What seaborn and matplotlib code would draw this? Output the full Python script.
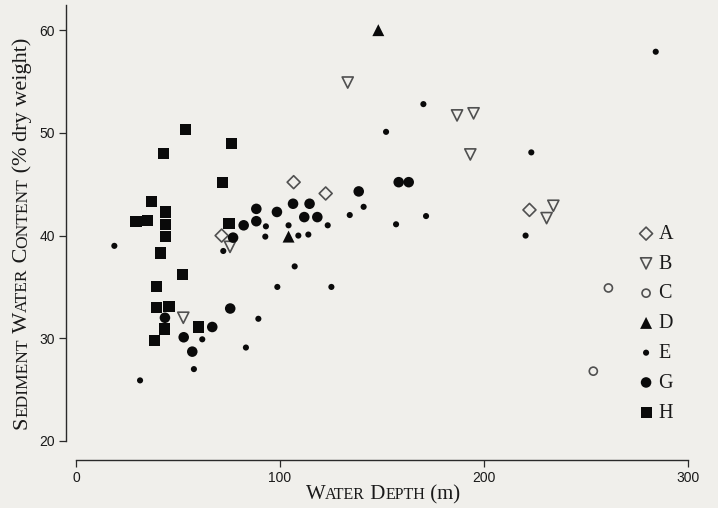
import pandas as pd
import matplotlib
matplotlib.use("Agg")
import matplotlib.pyplot as plt
import seaborn as sns

# Sediment water content (% dry weight) against water depth (m), by group
a_depth = [71.4, 106.7, 122.4, 222.3]
a_water = [40.0, 45.2, 44.1, 42.5]

b_depth = [52.6, 75.5, 133.2, 186.8, 194.9, 193.3, 230.7, 234.0]
b_water = [32.0, 38.9, 54.9, 51.7, 51.9, 47.9, 41.7, 42.9]

c_depth = [253.6, 261.0]
c_water = [26.8, 34.9]

d_depth = [104.2, 148.2]
d_water = [39.9, 60.0]

e_depth = [18.8, 31.4, 57.8, 61.9, 72.2, 83.3, 89.4, 92.8, 93.1, 98.7, 104.2, 107.2, 109.0,
           113.9, 123.4, 125.2, 134.2, 141.0, 152.0, 156.9, 170.3, 171.6, 220.4, 223.2, 284.2]
e_water = [39.0, 25.9, 27.0, 29.9, 38.5, 29.1, 31.9, 39.9, 40.9, 35.0, 41.0, 37.0, 40.0,
           40.1, 41.0, 35.0, 42.0, 42.8, 50.1, 41.1, 52.8, 41.9, 40.0, 48.1, 57.9]

g_depth = [43.6, 52.8, 57.0, 66.8, 75.6, 77.0, 82.2, 88.4, 88.4, 98.5, 106.4, 111.9, 114.5,
           118.3, 138.6, 158.2, 163.1]
g_water = [32.0, 30.1, 28.7, 31.1, 32.9, 39.8, 41.0, 41.4, 42.6, 42.3, 43.1, 41.8, 43.1,
           41.8, 44.3, 45.2, 45.2]

h_depth = [29.4, 35.0, 36.9, 39.5, 39.5, 38.6, 41.5, 43.1, 43.3, 44.0, 44.0, 44.0, 45.6,
           52.0, 53.6, 60.1, 71.9, 75.0, 76.1]
h_water = [41.4, 41.5, 43.3, 35.0, 33.0, 29.8, 38.3, 48.0, 30.9, 42.3, 41.1, 39.9, 33.1,
           36.2, 50.3, 31.1, 45.2, 41.2, 49.0]

groups = ["A", "B", "C", "D", "E", "G", "H"]
depths = [a_depth, b_depth, c_depth, d_depth, e_depth, g_depth, h_depth]
waters = [a_water, b_water, c_water, d_water, e_water, g_water, h_water]

frames = [pd.DataFrame({"depth": d, "water": w, "group": g})
          for g, d, w in zip(groups, depths, waters)]
df = pd.concat(frames, ignore_index=True)

# marker, size (pt), open?
styles = {
    "A": ("D", 6.6, True),
    "B": ("v", 8.0, True),
    "C": ("o", 5.8, True),
    "D": ("^", 8.6, False),
    "E": ("o", 4.4, False),
    "G": ("o", 7.6, False),
    "H": ("s", 8.0, False),
}

sns.set_theme(style="ticks")
bg = "#f0efeb"
plt.rcParams["font.family"] = ["Liberation Sans", "DejaVu Sans"]

fig = plt.figure(figsize=(7.18, 5.08), dpi=100, facecolor=bg)
ax = fig.add_axes([66 / 718, 48 / 508, 634 / 718, 455 / 508])
ax.set_facecolor(bg)

for g in groups:
    sub = df[df["group"] == g]
    marker, ms, hollow = styles[g]
    if hollow:
        sns.scatterplot(data=sub, x="depth", y="water", ax=ax, marker=marker, s=ms ** 2,
                        facecolor="none", edgecolor="#505050", linewidth=1.2, label=g)
    else:
        sns.scatterplot(data=sub, x="depth", y="water", ax=ax, marker=marker, s=ms ** 2,
                        color="#0a0a0a", edgecolor="none", linewidth=0, label=g)

ax.set_xlim(-4.9, 305.9)
ax.set_ylim(18.15, 62.45)
ax.set_xticks([0, 100, 200, 300])
ax.set_yticks([20, 30, 40, 50, 60])
ax.set_xlabel("")
ax.set_ylabel("")

for side in ["top", "right"]:
    ax.spines[side].set_visible(False)
ax.spines["left"].set_bounds(20, 62.45)
ax.spines["bottom"].set_bounds(0, 300)
for side in ["left", "bottom"]:
    ax.spines[side].set_color("#2a2a2a")
    ax.spines[side].set_linewidth(1.0)
ax.tick_params(axis="both", direction="out", length=5, width=0.9, color="#2a2a2a",
               labelsize=10, labelcolor="#1a1a1a", pad=3)

leg = ax.legend(loc="upper left", bbox_to_anchor=(0.8858, 0.5575), bbox_transform=fig.transFigure,
                frameon=False, borderpad=0, borderaxespad=0, handlelength=1.0,
                handletextpad=0.12, labelspacing=0.53, scatterpoints=1,
                prop={"family": "Liberation Serif", "size": 14.5})
for t in leg.get_texts():
    t.set_color("#1a1a1a")


# small-caps axis titles built from pieces of two sizes
def small_caps(parts, cx, cy, rotation):
    renderer = fig.canvas.get_renderer()
    texts = []
    for s, size in parts:
        t = fig.text(0, 0, s, fontsize=size, family="Liberation Serif", color="#1a1a1a",
                     rotation=rotation, rotation_mode="anchor", ha="left", va="baseline")
        texts.append(t)
    lengths = []
    for t in texts:
        bb = t.get_window_extent(renderer=renderer)
        lengths.append(bb.height if rotation else bb.width)
    total = sum(lengths)
    W, H = fig.bbox.width, fig.bbox.height
    pos = (cy * H if rotation else cx * W) - total / 2
    for t, L in zip(texts, lengths):
        if rotation:
            t.set_position((cx, pos / H))
        else:
            t.set_position((pos / W, cy))
        pos += L


small_caps([("W", 15), ("ATER", 11.5), (" D", 15), ("EPTH", 11.5), (" (m)", 15)],
           383 / 718, 9 / 508, 0)
small_caps([("S", 16), ("EDIMENT", 12.5), (" W", 16), ("ATER", 12.5), (" C", 16),
            ("ONTENT", 12.5), (" (% dry weight)", 16)],
           27 / 718, (508 - 233.5) / 508, 90)

fig.savefig("out.png", dpi=100, facecolor=bg)
